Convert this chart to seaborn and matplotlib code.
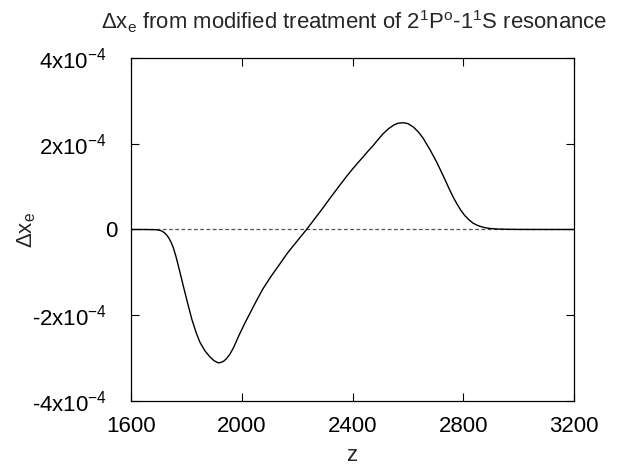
import matplotlib
matplotlib.use("Agg")
import matplotlib.pyplot as plt
import matplotlib.transforms as mtransforms
import seaborn as sns
import pandas as pd
from matplotlib.ticker import FixedLocator

z = [1600, 1650, 1690, 1705, 1715, 1725, 1735, 1745, 1752, 1762, 1770, 1780, 1789,
     1805, 1820, 1835, 1849, 1867, 1885, 1900, 1915, 1925, 1935, 1945, 1957, 1970,
     1990, 2010, 2030, 2050, 2076, 2105, 2138, 2165, 2190, 2210, 2234, 2260, 2293,
     2320, 2355, 2380, 2400, 2420, 2438, 2455, 2475, 2490, 2510, 2530, 2550, 2565,
     2583, 2600, 2620, 2640, 2655, 2680, 2705, 2730, 2752, 2765, 2777, 2790, 2805,
     2820, 2835, 2850, 2865, 2880, 2896, 2920, 2957, 3000, 3050, 3200]
dxe_1e4 = [0, 0, -0.005, -0.02, -0.05, -0.1, -0.18, -0.3, -0.41, -0.62, -0.82, -1.08, -1.32,
           -1.73, -2.10, -2.40, -2.63, -2.83, -2.97, -3.06, -3.11, -3.10, -3.07, -3.01, -2.91, -2.76,
           -2.47, -2.20, -1.95, -1.70, -1.39, -1.10, -0.80, -0.55, -0.35, -0.19, 0.0, 0.22, 0.50,
           0.74, 1.04, 1.25, 1.41, 1.56, 1.69, 1.82, 1.96, 2.08, 2.23, 2.35, 2.44, 2.48,
           2.49, 2.47, 2.39, 2.26, 2.13, 1.86, 1.56, 1.22, 0.91, 0.74, 0.60, 0.46, 0.33,
           0.23, 0.15, 0.10, 0.065, 0.04, 0.025, 0.012, 0.005, 0.002, 0.001, 0.0]

xticks = [1600, 2000, 2400, 2800, 3200]
yticks = [-4e-4, -2e-4, 0, 2e-4, 4e-4]
yticklabels = [r"-4x10$^{-4}$", r"-2x10$^{-4}$", "0", r"2x10$^{-4}$", r"4x10$^{-4}$"]
title = r"Δx$_{\rm e}$ from modified treatment of 2$^{1}$P$^{\rm o}$-1$^{1}$S resonance"
xlabel = "z"
ylabel = r"Δx$_{\rm e}$"

df = pd.DataFrame({"z": z, "dxe": [v * 1e-4 for v in dxe_1e4]})

sns.set_theme(style="ticks")
plt.rcParams["font.family"] = ["Liberation Sans", "DejaVu Sans"]
plt.rcParams["mathtext.fontset"] = "custom"
plt.rcParams["mathtext.rm"] = "Liberation Sans"
plt.rcParams["mathtext.it"] = "Liberation Sans:italic"

W, H = 628, 468
fig = plt.figure(figsize=(6.28, 4.68), dpi=100)
ax = fig.add_axes([131 / W, 1 - 401 / H, (574 - 131) / W, (401 - 58) / H])

ax.axhline(0, color="#555555", lw=0.9, ls=(0, (3, 2)), zorder=1)
sns.lineplot(data=df, x="z", y="dxe", ax=ax, color="black", lw=1.0, zorder=2)

ax.set_xlim(1600, 3200)
ax.set_ylim(-4e-4, 4e-4)
ax.xaxis.set_major_locator(FixedLocator(xticks))
ax.set_xticklabels([str(t) for t in xticks])
ax.yaxis.set_major_locator(FixedLocator(yticks))
ax.set_yticklabels(yticklabels)
ax.tick_params(direction="in", length=6, width=0.8, labelsize=16, colors="black",
               top=True, right=True)
ax.tick_params(axis="x", pad=10.5)
ax.tick_params(axis="y", pad=10)
for lab in ax.get_yticklabels():
    if lab.get_text() != "0":
        lab.set_transform(lab.get_transform() +
                          mtransforms.ScaledTranslation(-10 / 100, 0, fig.dpi_scale_trans))
for s in ax.spines.values():
    s.set_linewidth(0.9)
    s.set_color("black")

ax.set_xlabel("")
ax.set_ylabel("")
fig.text(352 / W, 1 - 461 / H, xlabel, ha="center", va="baseline", fontsize=16)
fig.text(27 / W, 1 - 230 / H, ylabel, ha="center", va="center", rotation=90, fontsize=16)
fig.text(354 / W, 1 - 29 / H, title, ha="center", va="baseline", fontsize=15.9)

fig.savefig("out.png", dpi=100)
